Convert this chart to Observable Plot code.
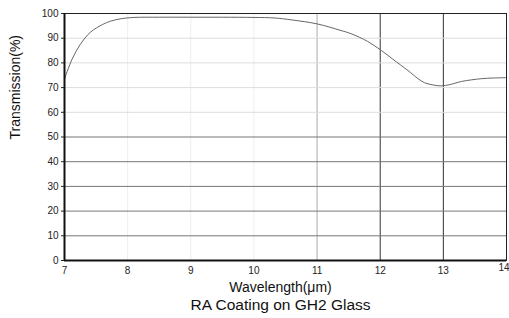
<!DOCTYPE html>
<html>
<head>
<meta charset="utf-8">
<script src="https://cdn.jsdelivr.net/npm/d3@7"></script>
<script src="https://cdn.jsdelivr.net/npm/@observablehq/plot@0.6"></script>
<style>
  html, body { margin: 0; padding: 0; background: #fff; }
  #chart svg { display: block; }
</style>
</head>
<body>
<div id="chart"></div>
<script>
// Data
const wavelength = [7.0, 7.12, 7.25, 7.41, 7.6, 7.73, 7.9, 8.1, 8.5, 9.0, 9.5, 10.0, 10.32, 10.6, 11.0, 11.38, 11.54, 11.8, 12.02, 12.2, 12.44, 12.6, 12.7, 12.85, 12.97, 13.1, 13.29, 13.6, 13.8, 14.0];
const transmission = [73.5, 81.5, 87.5, 92.4, 95.5, 96.9, 97.9, 98.4, 98.5, 98.5, 98.5, 98.4, 98.2, 97.4, 95.8, 93.1, 91.8, 88.7, 85.0, 81.5, 76.9, 73.6, 72.0, 71.0, 70.7, 71.2, 72.5, 73.6, 73.9, 74.0];
const xTicks = [7, 8, 9, 10, 11, 12, 13];
const xLastTick = [14];
const yTicks = [0, 10, 20, 30, 40, 50, 60, 70, 80, 90, 100];
const lightGridY = [60, 70, 80, 90];
const darkGridY = [10, 20, 30, 40, 50];
const faintGridX = [8, 9, 10];
const midGridX = [11];
const darkGridX = [12, 13];
const xTitle = "Wavelength(\u03bcm)";
const yTitle = "Transmission(%)";
const caption = "RA Coating on GH2 Glass";

const data = wavelength.map((w, i) => ({w, t: transmission[i]}));

const chart = Plot.plot({
  width: 509,
  height: 318,
  marginLeft: 64,
  marginRight: 3,
  marginTop: 13,
  marginBottom: 58,
  style: {fontFamily: "'Liberation Sans', Arial, sans-serif", fontSize: "10px", color: "#222", background: "#fff"},
  x: {domain: [7, 14]},
  y: {domain: [0, 100]},
  marks: [
    Plot.ruleX(faintGridX, {stroke: "#eeeeee", strokeWidth: 1}),
    Plot.ruleX(midGridX, {stroke: "#aaaaaa", strokeWidth: 1}),
    Plot.ruleX(darkGridX, {stroke: "#333333", strokeWidth: 1}),
    Plot.ruleY(lightGridY, {stroke: "#dddddd", strokeWidth: 1}),
    Plot.ruleY(darkGridY, {stroke: "#777777", strokeWidth: 1}),
    Plot.line(data, {x: "w", y: "t", stroke: "#666", strokeWidth: 1, curve: "catmull-rom"}),
    Plot.frame({stroke: "#222", strokeWidth: 1}),
    Plot.ruleX([7], {stroke: "#111", strokeWidth: 2}),
    Plot.ruleY([0], {stroke: "#111", strokeWidth: 2}),
    Plot.axisY({ticks: yTicks, tickSize: 3, tickPadding: 3, label: null, fontSize: 10}),
    Plot.axisX({ticks: xTicks, tickSize: 0, tickPadding: 6, label: null, fontSize: 10, tickFormat: d => String(d)}),
    Plot.text(xLastTick, {x: d => d, frameAnchor: "bottom", dy: 10, dx: 3, textAnchor: "end", fontSize: 10, fill: "#222", text: d => String(d)}),
    Plot.text([xTitle], {frameAnchor: "bottom", dy: 31, dx: -5, fontSize: 14, fill: "#111"}),
    Plot.text([caption], {frameAnchor: "bottom", dy: 49, dx: -5, fontSize: 15.5, fill: "#111"}),
    Plot.text([yTitle], {frameAnchor: "left", dx: -49, dy: 2.5, rotate: -90, fontSize: 14, fill: "#111"})
  ]
});
document.getElementById("chart").appendChild(chart);
</script>
</body>
</html>
